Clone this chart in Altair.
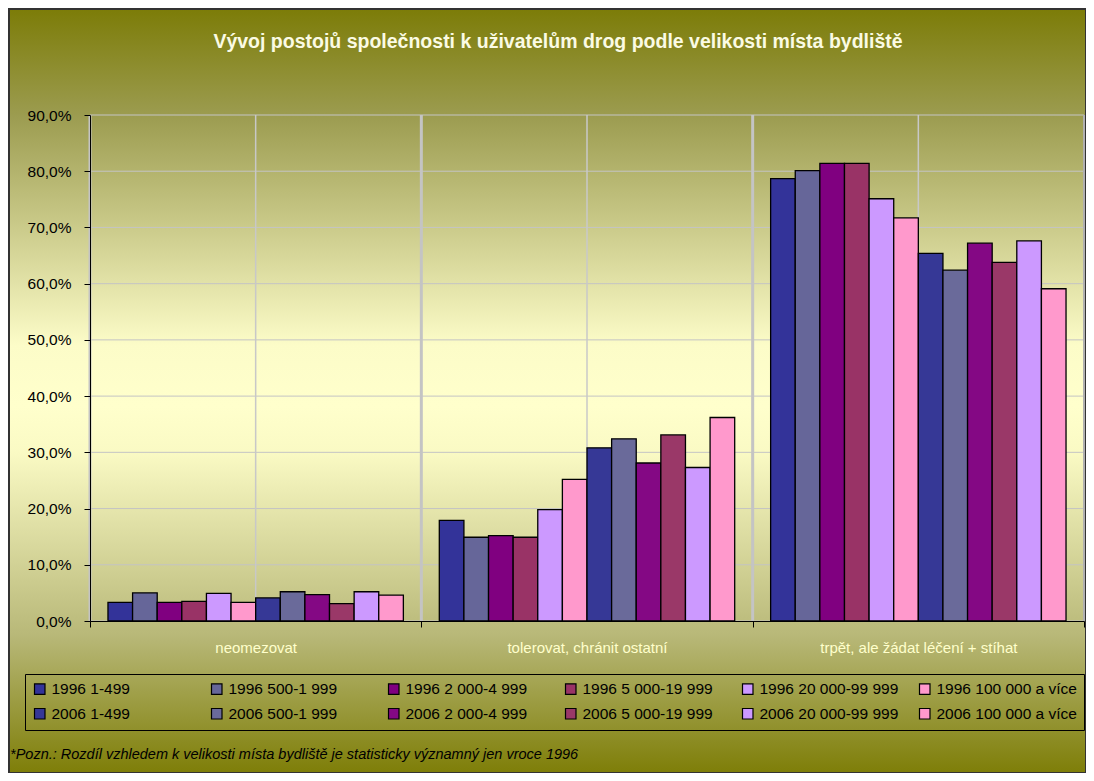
import altair as alt
import pandas as pd

categories = ["neomezovat", "tolerovat, chránit ostatní", "trpět, ale žádat léčení + stíhat"]
series = [
    "1996 1-499", "1996 500-1 999", "1996 2 000-4 999", "1996 5 000-19 999",
    "1996 20 000-99 999", "1996 100 000 a více",
    "2006 1-499", "2006 500-1 999", "2006 2 000-4 999", "2006 5 000-19 999",
    "2006 20 000-99 999", "2006 100 000 a více",
]
colors = [
    "#333399", "#666699", "#800080", "#993366", "#CC99FF", "#FF99CC",
    "#363896", "#6a6a9a", "#840884", "#9a3868", "#CC99FF", "#FF99CC",
]
values_neomezovat = [3.3, 5.0, 3.3, 3.5, 4.9, 3.3, 4.1, 5.2, 4.7, 3.1, 5.2, 4.6]
values_tolerovat = [17.9, 14.9, 15.2, 14.9, 19.8, 25.2, 30.8, 32.4, 28.1, 33.1, 27.3, 36.2]
values_trpet = [78.7, 80.1, 81.4, 81.4, 75.1, 71.7, 65.4, 62.4, 67.2, 63.8, 67.6, 59.1]
y_ticks = [0, 10, 20, 30, 40, 50, 60, 70, 80, 90]

title_text = "Vývoj postojů společnosti k uživatelům drog podle velikosti místa bydliště"
footnote = "*Pozn.: Rozdíl vzhledem k velikosti místa bydliště je statisticky významný jen vroce 1996"

rows = []
for cat, vals in zip(categories, [values_neomezovat, values_tolerovat, values_trpet]):
    for s, v in zip(series, vals):
        rows.append({"cat": cat, "series": s, "value": v})
df = pd.DataFrame(rows)

W, H = 994, 506
FONT = "Liberation Sans"

xscale = alt.Scale(domain=categories, paddingInner=0, paddingOuter=0)
yscale = alt.Scale(domain=[0, 90], nice=False)

x_axis = alt.Axis(
    tickBand="extent", grid=False, labelAngle=0, labelColor="#ffffcc",
    labelFontSize=15, labelFont=FONT, labelPadding=13, tickSize=6, labelLimit=400,
    tickColor="black", domainColor="black", zindex=2, title=None,
)
y_axis = alt.Axis(
    values=y_ticks, grid=False, tickSize=6, tickColor="black", domainColor="black",
    labelFontSize=15.5, labelFont=FONT, labelColor="black", labelPadding=13,
    labelExpr="replace(format(datum.value, '.1f'), '.', ',') + '%'", zindex=2, title=None,
)

bg = alt.Chart(pd.DataFrame({"a": [0]})).mark_rect(
    fill=alt.LinearGradient(
        gradient="linear",
        stops=[
            alt.GradientStop(color="#7c7c08", offset=0),
            alt.GradientStop(color="#9c9c50", offset=0.14),
            alt.GradientStop(color="#fcfcc8", offset=0.44),
            alt.GradientStop(color="#ffffcc", offset=0.52),
            alt.GradientStop(color="#fafac4", offset=0.58),
            alt.GradientStop(color="#b8b878", offset=0.82),
            alt.GradientStop(color="#7e7e08", offset=1),
        ],
        x1=0, x2=0, y1=0, y2=1,
    ),
    stroke="#333333",
    strokeWidth=2,
).encode(x=alt.value(-81), x2=alt.value(W + 2), y=alt.value(-106), y2=alt.value(H + 152))

hgrid = alt.Chart(pd.DataFrame({"t": y_ticks})).mark_rule(color="#c4c4c4", strokeWidth=1).encode(
    y=alt.Y("t:Q", scale=yscale, axis=y_axis)
)

cat_df = pd.DataFrame({"cat": categories})
mid_rules = alt.Chart(cat_df).mark_rule(color="#c8c8c8", strokeWidth=1.5).encode(
    x=alt.X("cat:N", bandPosition=0.5, scale=xscale, axis=x_axis)
)
bound_rules = alt.Chart(cat_df).mark_rule(color="#c4c4c4", strokeWidth=3).encode(
    x=alt.X("cat:N", bandPosition=0, scale=xscale, axis=x_axis)
)
end_rule = alt.Chart(cat_df.iloc[[2]]).mark_rule(color="#b0b0b0", strokeWidth=2).encode(
    x=alt.X("cat:N", bandPosition=1, scale=xscale, axis=x_axis)
)

bars = alt.Chart(df).mark_bar(stroke="black", strokeWidth=1.3).encode(
    x=alt.X("cat:N", scale=xscale, axis=x_axis),
    xOffset=alt.XOffset("series:N", scale=alt.Scale(domain=series, paddingInner=0, paddingOuter=0.73)),
    y=alt.Y("value:Q", scale=yscale, axis=y_axis),
    color=alt.Color(
        "series:N",
        scale=alt.Scale(domain=series, range=colors),
        legend=alt.Legend(
            title=None, orient="none", legendX=-65, legendY=559, columns=6,
            direction="horizontal",
            gridAlign="all", columnPadding=17, rowPadding=8, padding=7,
            symbolType="square", symbolSize=110, symbolStrokeColor="black",
            symbolStrokeWidth=1.2, labelFontSize=15.5, labelFont=FONT,
            labelColor="black", strokeColor="black", labelLimit=300, zindex=2,
        ),
    ),
)

foot = alt.Chart(pd.DataFrame({"t": [footnote]})).mark_text(
    align="left", baseline="middle", fontStyle="italic", fontSize=14.5, font=FONT, color="black"
).encode(x=alt.value(-80), y=alt.value(H + 134), text="t:N")

chart = alt.layer(bg, hgrid, mid_rules, bound_rules, end_rule, bars, foot).properties(
    width=W,
    height=H,
    title=alt.TitleParams(
        text=title_text, anchor="middle", fontSize=19.5, font=FONT, fontWeight="bold",
        color="#fbfbe4", offset=-44, dx=-29, zindex=2,
    ),
    autosize=alt.AutoSizeParams(type="none"),
    padding={"left": 82, "top": 107, "right": 2, "bottom": 152},
).configure_view(stroke=None).configure(font=FONT)

chart.save("out.html", embed_options={"renderer": "svg", "actions": False})
